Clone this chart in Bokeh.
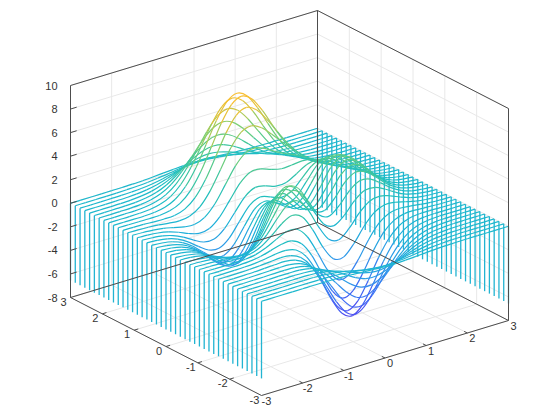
from bokeh.plotting import figure
from bokeh.models import Range1d, ColumnDataSource, LinearColorMapper
from bokeh.core.properties import value
from bokeh.embed import file_html
from bokeh.resources import INLINE

x_values = [-3, -2.75, -2.5, -2.25, -2, -1.75, -1.5, -1.25, -1, -.75, -.5, -.25, 0,
            .25, .5, .75, 1, 1.25, 1.5, 1.75, 2, 2.25, 2.5, 2.75, 3]
y_values = [-3, -2.85, -2.7, -2.55, -2.4, -2.25, -2.1, -1.95, -1.8, -1.65, -1.5, -1.35, -1.2, -1.05,
            -.9, -.75, -.6, -.45, -.3, -.15, 0, .15, .3, .45, .6, .75, .9, 1.05, 1.2, 1.35, 1.5, 1.65,
            1.8, 1.95, 2.1, 2.25, 2.4, 2.55, 2.7, 2.85, 3]
# one row per y value, one column per x value
z_rows = [
 [0,0,0,0,0,.01,0,-.01,-.03,-.08,-.14,-.2,-.25,-.25,-.22,-.17,-.11,-.06,-.03,-.01,0,0,0,0,0],
 [0,0,0,0,.01,.01,0,-.01,-.06,-.15,-.26,-.38,-.46,-.47,-.42,-.32,-.21,-.12,-.06,-.02,-.01,0,0,0,0],
 [0,0,0,0,.01,.01,.01,-.03,-.12,-.27,-.47,-.67,-.81,-.83,-.73,-.55,-.36,-.2,-.1,-.04,-.01,0,0,0,0],
 [0,0,0,.01,.01,.02,0,-.06,-.21,-.46,-.8,-1.13,-1.36,-1.39,-1.22,-.92,-.6,-.33,-.16,-.07,-.02,-.01,0,0,0],
 [0,0,0,.01,.02,.02,0,-.09,-.31,-.70,-1.22,-1.74,-2.09,-2.14,-1.87,-1.41,-.92,-.51,-.24,-.10,-.03,-.01,0,0,0],
 [0,0,.01,.01,.03,.03,.01,-.12,-.44,-1.0,-1.74,-2.50,-3.02,-3.10,-2.72,-2.05,-1.32,-.74,-.35,-.14,-.05,-.01,0,0,0],
 [0,0,.01,.02,.04,.05,.02,-.14,-.56,-1.30,-2.32,-3.36,-4.09,-4.21,-3.70,-2.79,-1.80,-.99,-.46,-.18,-.06,-.01,0,0,0],
 [0,0,.01,.03,.05,.08,.06,-.12,-.60,-1.50,-2.78,-4.12,-5.08,-5.27,-4.66,-3.51,-2.25,-1.23,-.56,-.21,-.06,-.01,0,0,0],
 [0,0,.01,.03,.07,.11,.13,-.03,-.53,-1.54,-3.02,-4.63,-5.83,-6.14,-5.46,-4.11,-2.61,-1.40,-.61,-.21,-.05,0,0,0,0],
 [0,0,.01,.03,.08,.15,.22,.14,-.28,-1.27,-2.85,-4.66,-6.08,-6.54,-5.87,-4.41,-2.77,-1.43,-.58,-.17,-.02,.01,.01,.01,0],
 [0,0,.01,.03,.08,.18,.33,.39,.15,-.68,-2.19,-4.07,-5.68,-6.32,-5.76,-4.32,-2.64,-1.28,-.44,-.07,.05,.05,.03,.01,0],
 [0,-.01,0,.01,.06,.19,.42,.67,.71,.20,-1.07,-2.89,-4.61,-5.47,-5.10,-3.79,-2.19,-.91,-.17,.11,.14,.09,.05,.02,.01],
 [0,-.01,-.02,-.03,.01,.14,.45,.90,1.30,1.23,.35,-1.27,-3.04,-4.11,-3.99,-2.89,-1.47,-.36,.23,.36,.28,.16,.07,.03,.01],
 [-.01,-.02,-.05,-.08,-.09,.02,.36,1.0,1.76,2.19,1.79,.46,-1.29,-2.53,-2.67,-1.80,-.58,.33,.71,.66,.44,.23,.10,.04,.01],
 [-.01,-.03,-.08,-.16,-.23,-.20,.12,.87,1.95,2.86,2.96,1.95,.29,-1.07,-1.40,-.71,.34,1.07,1.24,1.0,.63,.32,.14,.05,.02],
 [-.02,-.05,-.12,-.25,-.42,-.51,-.28,.49,1.78,3.09,3.63,2.94,1.40,0,-.41,.20,1.18,1.79,1.78,1.35,.82,.41,.18,.06,.02],
 [-.02,-.07,-.17,-.36,-.65,-.89,-.82,-.11,1.28,2.85,3.74,3.34,1.93,.57,.19,.85,1.85,2.41,2.27,1.68,1.01,.51,.21,.08,.02],
 [-.03,-.08,-.22,-.47,-.87,-1.29,-1.42,-.85,.53,2.26,3.40,3.22,1.97,.71,.45,1.25,2.34,2.91,2.69,1.97,1.17,.59,.25,.09,.03],
 [-.03,-.10,-.26,-.57,-1.08,-1.67,-1.99,-1.60,-.30,1.49,2.79,2.80,1.70,.59,.49,1.45,2.68,3.28,3.01,2.19,1.30,.65,.28,.10,.03],
 [-.03,-.11,-.29,-.65,-1.24,-1.96,-2.46,-2.25,-1.06,.72,2.11,2.27,1.34,.39,.44,1.55,2.87,3.51,3.21,2.33,1.39,.69,.29,.11,.03],
 [-.04,-.11,-.30,-.69,-1.33,-2.14,-2.77,-2.71,-1.65,.06,1.48,1.75,.98,.19,.38,1.57,2.94,3.58,3.27,2.37,1.41,.70,.30,.11,.03],
 [-.04,-.11,-.30,-.69,-1.35,-2.20,-2.90,-2.95,-2.03,-.43,.96,1.30,.68,.04,.31,1.53,2.87,3.50,3.19,2.31,1.38,.69,.29,.10,.03],
 [-.03,-.11,-.29,-.66,-1.29,-2.12,-2.83,-2.96,-2.17,-.72,.57,.96,.46,-.05,.27,1.43,2.69,3.27,2.98,2.16,1.28,.64,.27,.10,.03],
 [-.03,-.10,-.26,-.60,-1.17,-1.93,-2.60,-2.75,-2.08,-.80,.39,.79,.42,.02,.32,1.35,2.45,2.95,2.67,1.93,1.15,.57,.24,.09,.03],
 [-.03,-.08,-.22,-.51,-1.01,-1.66,-2.23,-2.35,-1.75,-.59,.51,.94,.69,.36,.58,1.39,2.25,2.61,2.32,1.67,.98,.49,.21,.07,.02],
 [-.02,-.07,-.18,-.42,-.82,-1.33,-1.76,-1.78,-1.16,-.05,1.04,1.55,1.42,1.12,1.17,1.65,2.17,2.32,1.99,1.40,.82,.40,.17,.06,.02],
 [-.02,-.05,-.14,-.32,-.61,-.98,-1.23,-1.09,-.37,.81,1.99,2.65,2.65,2.34,2.13,2.18,2.27,2.14,1.72,1.17,.67,.33,.14,.05,.01],
 [-.01,-.04,-.10,-.22,-.42,-.63,-.69,-.35,.54,1.88,3.23,4.09,4.24,3.87,3.36,2.93,2.53,2.08,1.52,.98,.54,.26,.11,.04,.01],
 [-.01,-.03,-.07,-.14,-.25,-.32,-.19,.34,1.43,2.96,4.53,5.60,5.89,5.46,4.64,3.72,2.87,2.08,1.39,.83,.44,.20,.08,.03,.01],
 [-.01,-.02,-.04,-.08,-.11,-.07,.20,.91,2.16,3.85,5.59,6.84,7.24,6.75,5.67,4.38,3.14,2.10,1.29,.72,.36,.16,.06,.02,.01],
 [0,-.01,-.02,-.03,-.02,.11,.48,1.28,2.61,4.38,6.20,7.54,8.0,7.48,6.25,4.72,3.26,2.06,1.18,.62,.29,.12,.05,.02,0],
 [0,0,-.01,0,.05,.21,.62,1.44,2.75,4.47,6.24,7.56,8.03,7.53,6.27,4.68,3.15,1.92,1.06,.53,.24,.10,.03,.01,0],
 [0,0,0,.02,.07,.25,.64,1.40,2.60,4.15,5.75,6.96,7.41,6.94,5.78,4.28,2.84,1.70,.91,.44,.19,.07,.03,.01,0],
 [0,0,.01,.02,.08,.24,.58,1.23,2.24,3.54,4.89,5.91,6.29,5.90,4.90,3.62,2.38,1.40,.73,.35,.14,.06,.02,.01,0],
 [0,0,.01,.02,.07,.20,.48,1.0,1.79,2.82,3.87,4.68,4.98,4.67,3.88,2.86,1.87,1.09,.56,.26,.11,.04,.01,0,0],
 [0,0,.01,.02,.06,.16,.36,.74,1.32,2.07,2.84,3.43,3.65,3.43,2.84,2.09,1.36,.79,.40,.19,.08,.03,.01,0,0],
 [0,0,0,.01,.04,.11,.25,.52,.91,1.43,1.95,2.36,2.51,2.36,1.96,1.44,.93,.54,.27,.13,.05,.02,.01,0,0],
 [0,0,0,.01,.03,.07,.17,.34,.6,.93,1.27,1.53,1.63,1.53,1.27,.93,.6,.35,.18,.08,.03,.01,0,0,0],
 [0,0,0,.01,.02,.05,.1,.2,.36,.56,.76,.92,.98,.92,.76,.56,.36,.21,.1,.05,.02,.01,0,0,0],
 [0,0,0,0,.01,.03,.06,.12,.21,.32,.44,.53,.56,.53,.44,.32,.21,.12,.06,.03,.01,0,0,0,0],
 [0,0,0,0,.01,.01,.03,.06,.11,.17,.23,.28,.3,.28,.23,.17,.11,.06,.03,.01,.01,0,0,0,0],
]
z_base = -6.55
x_ticks = [-3, -2, -1, 0, 1, 2, 3]
y_ticks = [-3, -2, -1, 0, 1, 2, 3]
z_ticks = [-8, -6, -4, -2, 0, 2, 4, 6, 8, 10]

INK = "#4d4d4d"
GRID = "#e8e8e8"
FENCE = "#22b4d2"
color_stops = [(-6.55, (80, 72, 240)), (-4.5, (60, 110, 245)), (-2.5, (50, 150, 235)),
               (-.6, (30, 178, 215)), (.6, (30, 190, 195)), (2.5, (70, 200, 150)),
               (4.5, (130, 208, 110)), (6.5, (225, 195, 60)), (8.1, (253, 190, 50))]


def proj(x, y, z):
    u, v = (x + 3) / 6, (y + 3) / 6
    return 261 + u * 247 - v * 191, 395 - u * 75 - v * 98 - (z + 8) * 212 / 18


palette = []
for i in range(256):
    t = -6.55 + i / 255 * 14.65
    for (a, ca), (b, cb) in zip(color_stops, color_stops[1:]):
        if t <= b:
            f = (t - a) / (b - a)
            palette.append("#%02x%02x%02x" % tuple(round(p + f * (q - p)) for p, q in zip(ca, cb)))
            break
    else:
        palette.append("#fdbe32")
mapper = LinearColorMapper(palette=palette, low=-6.55, high=8.1)

p = figure(width=552, height=412, x_range=Range1d(0, 552), y_range=Range1d(412, 0),
           toolbar_location=None, output_backend="svg", min_border=0,
           background_fill_color="white", border_fill_color="white")
p.axis.visible = False
p.grid.visible = False
p.outline_line_color = None


def segs(pairs, color, width=1.0):
    xs, ys = [], []
    for a, b in pairs:
        pa, pb = proj(*a), proj(*b)
        xs.append([pa[0], pb[0]])
        ys.append([pa[1], pb[1]])
    p.multi_line(xs, ys, line_color=color, line_width=width)


x0, x1 = x_ticks[0], x_ticks[-1]
y0, y1 = y_ticks[0], y_ticks[-1]
zb, zt = z_ticks[0], z_ticks[-1]

grid = []
for t in x_ticks:
    grid.append(((t, y0, zb), (t, y1, zb)))
    grid.append(((t, y1, zb), (t, y1, zt)))
for t in y_ticks:
    grid.append(((x0, t, zb), (x1, t, zb)))
    grid.append(((x1, t, zb), (x1, t, zt)))
for t in z_ticks:
    grid.append(((x0, y1, t), (x1, y1, t)))
    grid.append(((x1, y1, t), (x1, y0, t)))
segs(grid, GRID)

# fences at both ends of each curve
fence = []
for y, row in zip(y_values, z_rows):
    fence.append(((x0, y, row[0]), (x0, y, z_base)))
    fence.append(((x1, y, row[-1]), (x1, y, z_base)))
segs(fence, FENCE, 1.3)

# curves, coloured by height, back to front; the line through each curve's
# table values is drawn as a smooth spline (one Bezier piece per table interval)
b = {k: [] for k in ("x0", "y0", "x1", "y1", "cx0", "cy0", "cx1", "cy1", "z")}
n = len(x_values)
for y, row in zip(reversed(y_values), reversed(z_rows)):
    pts = [proj(xv, y, zv) for xv, zv in zip(x_values, row)]
    for i in range(n - 1):
        p0, p1, p2, p3 = pts[max(i - 1, 0)], pts[i], pts[i + 1], pts[min(i + 2, n - 1)]
        b["x0"].append(p1[0]); b["y0"].append(p1[1])
        b["x1"].append(p2[0]); b["y1"].append(p2[1])
        b["cx0"].append(p1[0] + (p2[0] - p0[0]) / 6); b["cy0"].append(p1[1] + (p2[1] - p0[1]) / 6)
        b["cx1"].append(p2[0] - (p3[0] - p1[0]) / 6); b["cy1"].append(p2[1] - (p3[1] - p1[1]) / 6)
        b["z"].append((row[i] + row[i + 1]) / 2)
p.bezier("x0", "y0", "x1", "y1", "cx0", "cy0", "cx1", "cy1", source=ColumnDataSource(b),
         line_width=1.2, line_color={"field": "z", "transform": mapper})

box = [((x0, y0, zb), (x1, y0, zb)), ((x0, y0, zb), (x0, y1, zb)),
       ((x1, y0, zb), (x1, y1, zb)), ((x0, y1, zb), (x1, y1, zb)),
       ((x0, y1, zb), (x0, y1, zt)), ((x1, y0, zb), (x1, y0, zt)),
       ((x1, y1, zb), (x1, y1, zt)), ((x0, y1, zt), (x1, y1, zt)),
       ((x1, y1, zt), (x1, y0, zt))]
segs(box, INK)

# tick marks
marks = [((t, y0, zb), (t, y0 + .1, zb)) for t in x_ticks[1:-1]]
marks += [((x0, t, zb), (x0 + .1, t, zb)) for t in y_ticks[1:-1]]
marks += [((x0, y1, t), (x0 + .15, y1, t)) for t in z_ticks[1:-1]]
segs(marks, INK)

lab = dict(text_font=value("Liberation Sans"), text_font_size="11px", text_color="#333333",
           text_baseline="middle")
px, py, pt = [], [], []
for t in x_ticks:
    a = proj(t, y0, zb)
    px.append(a[0] + 5)
    py.append(a[1] + 5)
    pt.append(str(t))
p.text(px, py, text=pt, text_align="center", **lab)
px, py, pt = [], [], []
for t in y_ticks:
    a = proj(x0, t, zb)
    px.append(a[0] - 7)
    py.append(a[1] + 4)
    pt.append(str(t))
p.text(px, py, text=pt, text_align="center", **lab)
px, py, pt = [], [], []
for t in z_ticks:
    a = proj(x0, y1, t)
    px.append(a[0] - 13)
    py.append(a[1])
    pt.append(str(t))
p.text(px, py, text=pt, text_align="right", **lab)

open("out.html", "w").write(file_html(p, INLINE))
